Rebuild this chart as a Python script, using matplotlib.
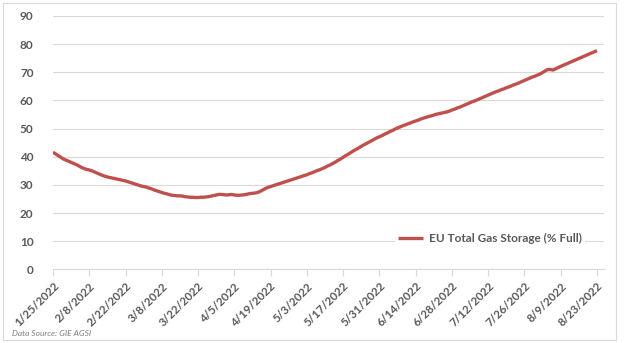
import matplotlib
matplotlib.use("Agg")
import matplotlib.pyplot as plt
import matplotlib.dates as mdates
import pandas as pd
from matplotlib.patches import Rectangle

# EU total gas storage, % full, daily from 2022-01-25
start_date = "2022-01-25"
storage_pct = [
    41.6, 41.0, 40.4, 39.8, 39.2, 38.8, 38.4,
    38.0, 37.6, 37.2, 36.7, 36.2, 35.8, 35.5,
    35.3, 35.0, 34.6, 34.2, 33.8, 33.4, 33.1,
    32.8, 32.6, 32.4, 32.2, 32.0, 31.8, 31.6,
    31.4, 31.1, 30.8, 30.5, 30.2, 29.9, 29.6,
    29.4, 29.2, 28.9, 28.6, 28.2, 27.9, 27.6,
    27.3, 27.0, 26.8, 26.5, 26.3, 26.2, 26.1,
    26.1, 26.0, 25.8, 25.7, 25.6, 25.6, 25.5,
    25.5, 25.6, 25.6, 25.7, 25.8, 26.0, 26.2,
    26.4, 26.6, 26.6, 26.5, 26.4, 26.5, 26.6,
    26.4, 26.3, 26.3, 26.4, 26.5, 26.7, 26.9,
    27.0, 27.1, 27.3, 27.7, 28.2, 28.7, 29.1,
    29.4, 29.7, 30.0, 30.3, 30.6, 30.9, 31.2,
    31.5, 31.8, 32.1, 32.4, 32.7, 33.0, 33.3,
    33.6, 34.0, 34.3, 34.7, 35.1, 35.4, 35.8,
    36.2, 36.7, 37.1, 37.6, 38.1, 38.7, 39.2,
    39.8, 40.4, 40.9, 41.5, 42.1, 42.6, 43.1,
    43.7, 44.2, 44.7, 45.2, 45.7, 46.2, 46.7,
    47.1, 47.5, 48.0, 48.4, 48.9, 49.3, 49.8,
    50.2, 50.6, 51.0, 51.3, 51.7, 52.0, 52.4,
    52.7, 53.0, 53.4, 53.7, 54.0, 54.3, 54.5,
    54.8, 55.1, 55.3, 55.5, 55.7, 55.9, 56.2,
    56.6, 56.9, 57.3, 57.6, 58.0, 58.4, 58.8,
    59.2, 59.6, 59.9, 60.3, 60.7, 61.1, 61.5,
    61.9, 62.3, 62.7, 63.1, 63.4, 63.8, 64.1,
    64.5, 64.8, 65.2, 65.6, 65.9, 66.3, 66.7,
    67.1, 67.5, 67.9, 68.3, 68.6, 69.0, 69.4,
    69.9, 70.5, 71.0, 71.0, 70.8, 71.2, 71.7,
    72.1, 72.5, 72.9, 73.3, 73.7, 74.1, 74.5,
    74.9, 75.3, 75.7, 76.1, 76.5, 76.9, 77.3,
    77.7,
]
tick_labels = [
    "1/25/2022", "2/8/2022", "2/22/2022", "3/8/2022", "3/22/2022",
    "4/5/2022", "4/19/2022", "5/3/2022", "5/17/2022", "5/31/2022",
    "6/14/2022", "6/28/2022", "7/12/2022", "7/26/2022", "8/9/2022",
    "8/23/2022",
]
y_ticks = [0, 10, 20, 30, 40, 50, 60, 70, 80, 90]
series_name = "EU Total Gas Storage (% Full)"
source_note = "Data Source: GIE AGSI"

dates = pd.date_range(start_date, periods=len(storage_pct), freq="D")
tick_dates = pd.to_datetime(tick_labels, format="%m/%d/%Y")

W, H = 624, 343
fig = plt.figure(figsize=(W / 100, H / 100), dpi=100)
fig.patch.set_facecolor("white")

# outer chart border
fig.patches.append(Rectangle((3 / W, 3 / H), (613 / W), (337 / H),
                             transform=fig.transFigure, fill=False,
                             edgecolor="#d9d9d9", linewidth=0.8))

left, right, top, bottom = 53, 604, 16, 269.3
ax = fig.add_axes([left / W, 1 - bottom / H, (right - left) / W, (bottom - top) / H])

line_color = "#c0504d"
text_color = "#595959"
grid_color = "#d9d9d9"
font = "Lato"

ax.plot(dates, storage_pct, color=line_color, lw=2.4, label=series_name,
        solid_capstyle="butt")

ax.set_ylim(0, 90)
ax.set_yticks(y_ticks)
ax.set_yticklabels([str(v) for v in y_ticks], fontfamily=font,
                   fontweight="bold", fontsize=8.5, color=text_color)
ax.tick_params(axis="y", length=0, pad=14)

x0 = pd.Timestamp(start_date)
ax.set_xlim(mdates.date2num(x0), mdates.date2num(x0) + 212.7)
ax.set_xticks(tick_dates)
ax.set_xticklabels(tick_labels, rotation=45, ha="right", va="top",
                   rotation_mode="anchor", fontfamily=font,
                   fontweight="bold", fontsize=8.3, color=text_color)
ax.tick_params(axis="x", length=5, width=0.8, color=grid_color, pad=3)

ax.grid(axis="y", color=grid_color, lw=0.8)
ax.set_axisbelow(True)
for s in ["top", "right", "left"]:
    ax.spines[s].set_visible(False)
ax.spines["bottom"].set_color(grid_color)
ax.spines["bottom"].set_linewidth(0.8)

leg = ax.legend(loc="center", bbox_to_anchor=(490 / W, 1 - 238.3 / H),
                bbox_transform=fig.transFigure, frameon=True,
                facecolor="white", edgecolor="none", framealpha=1,
                handlelength=2.1, handletextpad=0.5, borderpad=0.3,
                fancybox=False,
                prop={"family": font, "weight": "bold", "size": 8.5})
for t in leg.get_texts():
    t.set_color(text_color)

fig.text(12 / W, 1 - 334 / H, source_note, fontfamily=font, style="italic",
         fontsize=6, color="#7f7f7f", va="center", ha="left")

fig.savefig("out.png", dpi=100, facecolor="white")
